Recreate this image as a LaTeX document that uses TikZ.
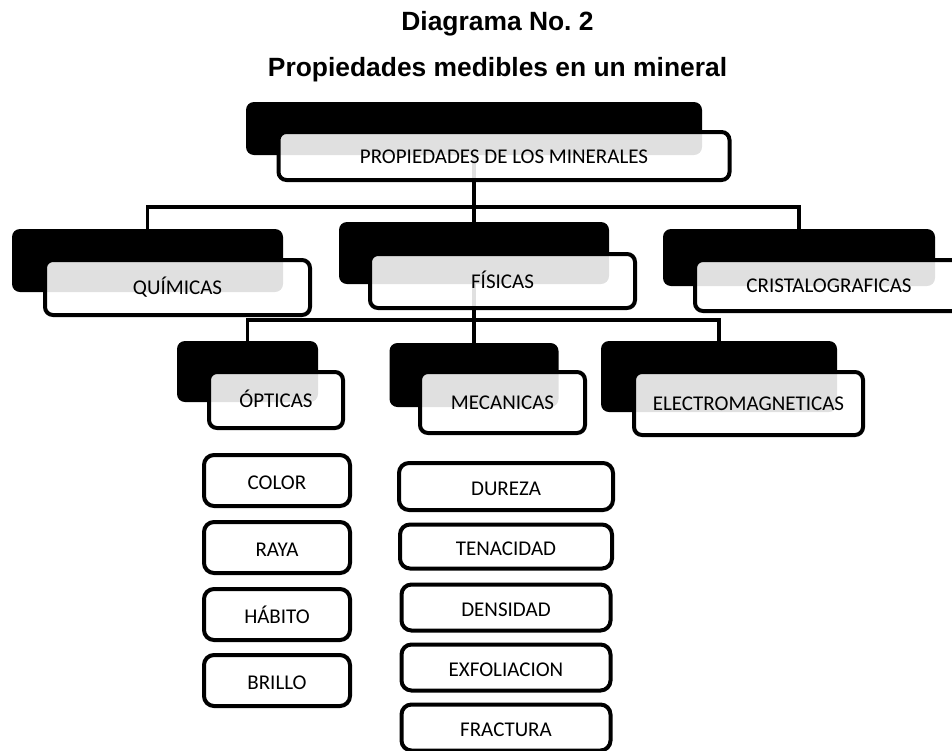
\documentclass[tikz,border=0pt]{standalone}
\usepackage{fontspec}
\setmainfont{Carlito}
\newfontfamily\titlefont{Liberation Sans}
\usetikzlibrary{calc}
\frenchspacing

\tikzset{
  back/.style={fill=black,rounded corners=4pt,inner sep=0pt},
  front/.style={draw=black,line width=2pt,fill=white,fill opacity=0.88,text opacity=1,
    rounded corners=4pt,inner sep=0pt,text height=7pt,text depth=0pt,
    font=\fontsize{10.5}{12}\selectfont},
  leaf/.style={draw=black,line width=2pt,fill=white,rounded corners=5pt,inner sep=0pt,
    text height=9pt,text depth=0pt,font=\fontsize{10.5}{12}\selectfont},
  conn/.style={line width=1.9pt},
  heading/.style={font=\titlefont\bfseries\fontsize{13.2}{15}\selectfont,anchor=base}
}

\begin{document}
\begin{tikzpicture}[x=0.5pt,y=-0.5pt]
\useasboundingbox (0,0) rectangle (952,750);
\clip (0,0) rectangle (952,750);

\node[heading] at (497.5,30) (t1) {Diagrama No. 2};
\node[heading] at (497.5,76) (t2) {Propiedades medibles en un mineral};

% bus lines
\coordinate (bus1) at (474,207);
\coordinate (bus2) at (474,320);

% connectors (behind the boxes)
\draw[conn] (474,128.5) -- (bus1);
\draw[conn] (147.5,260.5) |- (bus1) -| (799,257.5);
\draw[conn] (bus1) -- (474,375);
\draw[conn] (247.5,371.5) |- (bus2) -| (719,376.5);

% level 0
\draw node[back,minimum width=228pt,minimum height=26.5pt] at (474,128.5) (pb) {};
\draw node[front,minimum width=225.5pt,minimum height=24pt] at ([shift={(30,27.5)}]pb.center) (p) {PROPIEDADES DE LOS MINERALES};

% level 1
\draw node[back,minimum width=135.5pt,minimum height=31.5pt] at (147.5,260.5) (qb) {};
\draw node[front,minimum width=132.5pt,minimum height=27.5pt] at ([shift={(30,27)}]qb.center) (q) {QUÍMICAS};
\draw node[back,minimum width=135pt,minimum height=31pt] at (474,253) (fb) {};
\draw node[front,minimum width=132.5pt,minimum height=27pt] at ([shift={(28.5,28)}]fb.center) (f) {FÍSICAS};
\draw node[back,minimum width=136pt,minimum height=28.5pt] at (799,257.5) (cb) {};
\draw node[front,minimum width=134pt,minimum height=25.5pt] at ([shift={(30,28)}]cb.center) (c) {CRISTALOGRAFICAS};

% level 2
\draw node[back,minimum width=70.5pt,minimum height=30.5pt] at (247.5,371.5) (ob) {};
\draw node[front,minimum width=67pt,minimum height=28pt] at ([shift={(28.5,28.5)}]ob.center) (o) {ÓPTICAS};
\draw node[back,minimum width=84.5pt,minimum height=32pt] at (474,375) (mb) {};
\draw node[front,minimum width=82.5pt,minimum height=30.5pt] at ([shift={(28.5,27.5)}]mb.center) (m) {MECANICAS};
\draw node[back,minimum width=118pt,minimum height=35.5pt] at (719,376.5) (eb) {};
\draw node[front,minimum width=114.5pt,minimum height=31.5pt] at ([shift={(29.5,27)}]eb.center) (e) {ELECTROMAGNETICAS};

% opticas list
\draw node[leaf,minimum width=73pt,minimum height=25.5pt] at (277,480.5) (col) {COLOR};
\draw node[leaf,minimum width=73pt,minimum height=25.5pt,below of=col,node distance=33.5pt] (ray) {RAYA};
\draw node[leaf,minimum width=73pt,minimum height=25.5pt,below of=ray,node distance=33.5pt] (hab) {HÁBITO};
\draw node[leaf,minimum width=73pt,minimum height=25.5pt,below of=hab,node distance=33pt] (bri) {BRILLO};

% mecanicas list
\draw node[leaf,minimum width=107pt,minimum height=23.5pt] at (506,486.5) (dur) {DUREZA};
\draw node[leaf,minimum width=106pt,minimum height=22pt,below of=dur,node distance=30pt] (ten) {TENACIDAD};
\draw node[leaf,minimum width=104.5pt,minimum height=23pt,below of=ten,node distance=30.5pt] (den) {DENSIDAD};
\draw node[leaf,minimum width=104.5pt,minimum height=23pt,below of=den,node distance=30pt] (exf) {EXFOLIACION};
\draw node[leaf,minimum width=104.5pt,minimum height=23pt,below of=exf,node distance=30pt] (fra) {FRACTURA};

\end{tikzpicture}
\end{document}
